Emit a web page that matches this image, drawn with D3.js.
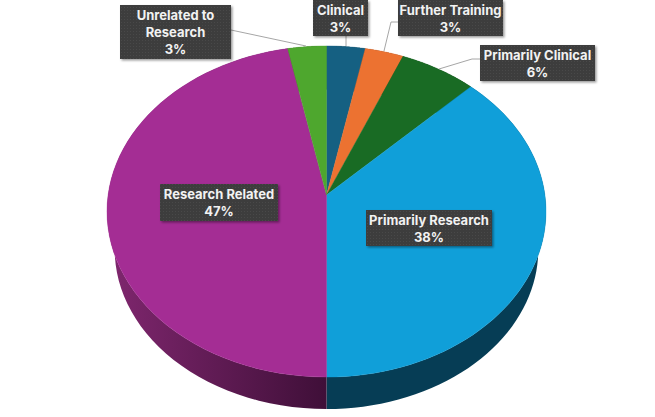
<!DOCTYPE html>
<html>
<head>
<meta charset="utf-8">
<script src="https://cdnjs.cloudflare.com/ajax/libs/d3/7.8.5/d3.min.js"></script>
<style>
  html, body { margin: 0; padding: 0; background: #fff; }
  svg { display: block; }
  text { font-family: "Inter", "Open Sans", sans-serif; font-weight: 700; font-size: 13px; fill: #f2f2f2; }
</style>
</head>
<body>
<div id="wrapper"></div>
<script>
// responses out of 32, labels show the rounded percent
const categories = ['Clinical', 'Further Training', 'Primarily Clinical', 'Primarily Research', 'Research Related', 'Unrelated to Research']
const counts = [1, 1, 2, 12, 15, 1]
const sliceColors = ['#156082', '#EC7231', '#196B24', '#109FD9', '#A42D94', '#4EA72E']
const wallColors = ['#0a3042', '#753919', '#0d3612', '#063d55', 'url(#wall-purple)', '#275417']

function drawPie() {
  const width = 655
  const height = 417

  // tilted disc: apex sits above the middle of the ellipse because of perspective
  const apex = { x: 326.5, y: 195 }
  const persp = 0.0997
  const radiusX = 218.4
  const radiusY = 163.9

  // lower rim is a slightly smaller copy of the top rim
  const topMidY = 211.5
  const lowerMidY = 249.3
  const lowerScale = 0.965

  const rimPoint = angle => {
    const u = Math.sin(angle)
    const v = Math.cos(angle)
    const w = 1 + persp * v
    return [apex.x + radiusX * u / w, apex.y - radiusY * v / w]
  }

  const lowerPoint = p => [
    apex.x + (p[0] - apex.x) * lowerScale,
    lowerMidY + (p[1] - topMidY) * lowerScale
  ]

  const rimPoints = d => d3.range(0, 61).map(i =>
    rimPoint(d.startAngle + (d.endAngle - d.startAngle) * i / 60))

  const line = d3.line()
  const pie = d3.pie().sort(null).value(d => d.count)
  const total = d3.sum(counts)
  const slices = pie(categories.map((name, i) => ({ name, count: counts[i], i })))

  const wrapper = d3.select('#wrapper')
    .append('svg')
      .attr('width', width)
      .attr('height', height)

  const defs = wrapper.append('defs')

  const grad = defs.append('linearGradient')
      .attr('id', 'wall-purple')
      .attr('gradientUnits', 'userSpaceOnUse')
      .attr('x1', 107).attr('x2', 326.5).attr('y1', 0).attr('y2', 0)
  grad.append('stop').attr('offset', 0).attr('stop-color', '#80276f')
  grad.append('stop').attr('offset', 1).attr('stop-color', '#3f0f38')

  const dots = defs.append('pattern')
      .attr('id', 'dots')
      .attr('patternUnits', 'userSpaceOnUse')
      .attr('width', 3).attr('height', 3)
  dots.append('rect').attr('width', 3).attr('height', 3).attr('fill', '#3e3e3e')
  dots.append('rect').attr('x', 1).attr('y', 1).attr('width', 1).attr('height', 1).attr('fill', '#4a4a4a')

  const shadow = defs.append('filter')
      .attr('id', 'shadow')
      .attr('x', '-10%').attr('y', '-20%').attr('width', '120%').attr('height', '140%')
  shadow.append('feDropShadow')
      .attr('dx', 1.5).attr('dy', 1.5).attr('stdDeviation', 1)
      .attr('flood-color', '#000').attr('flood-opacity', 0.4)

  // side wall first, top faces go over it
  wrapper.append('g').selectAll('path')
    .data(slices)
    .join('path')
      .attr('d', d => {
        const top = rimPoints(d)
        const bottom = top.map(lowerPoint).reverse()
        return line(top.concat(bottom)) + 'Z'
      })
      .attr('fill', d => wallColors[d.data.i])

  // thin own-colour stroke hides the light seam between faces
  wrapper.append('g').selectAll('path')
    .data(slices)
    .join('path')
      .attr('d', d => line([[apex.x, apex.y]].concat(rimPoints(d))) + 'Z')
      .attr('fill', d => sliceColors[d.data.i])
      .attr('stroke', d => sliceColors[d.data.i])
      .attr('stroke-width', 0.4)

  // leader lines
  const leaders = [
    [[346, 36], [346, 46]],
    [[398, 22], [391, 22], [384, 51]],
    [[480, 59], [472, 59], [439, 69]],
    null,
    null,
    [[231, 30], [306, 46]]
  ]
  wrapper.append('g').selectAll('path')
    .data(leaders.filter(d => d))
    .join('path')
      .attr('d', line)
      .attr('fill', 'none')
      .attr('stroke', '#a6a6a6')
      .attr('stroke-width', 1)

  // label boxes: x0, y0, x1, y1, then the wrapped name
  const boxes = [
    { box: [313, 0, 368, 36], lines: ['Clinical'] },
    { box: [398, 0, 503, 36], lines: ['Further Training'] },
    { box: [480, 45, 595, 81], lines: ['Primarily Clinical'] },
    { box: [366, 210, 492, 246], lines: ['Primarily Research'] },
    { box: [160, 184, 278, 221], lines: ['Research Related'] },
    { box: [120, 5, 231, 59], lines: ['Unrelated to', 'Research'] }
  ]

  const labels = wrapper.append('g').selectAll('g')
    .data(slices)
    .join('g')

  labels.append('rect')
      .attr('x', d => boxes[d.data.i].box[0])
      .attr('y', d => boxes[d.data.i].box[1])
      .attr('width', d => boxes[d.data.i].box[2] - boxes[d.data.i].box[0])
      .attr('height', d => boxes[d.data.i].box[3] - boxes[d.data.i].box[1])
      .attr('fill', 'url(#dots)')
      .attr('filter', 'url(#shadow)')

  labels.append('text')
      .attr('text-anchor', 'middle')
      .selectAll('tspan')
      .data(d => boxes[d.data.i].lines.concat(d3.format('.0%')(d.data.count / total))
        .map((t, n) => ({ t, n, x: (boxes[d.data.i].box[0] + boxes[d.data.i].box[2]) / 2, y: boxes[d.data.i].box[1] })))
      .join('tspan')
        .attr('x', d => d.x)
        .attr('y', d => d.y + 14.5 + d.n * 17)
        .text(d => d.t)
}

drawPie()
</script>
</body>
</html>
